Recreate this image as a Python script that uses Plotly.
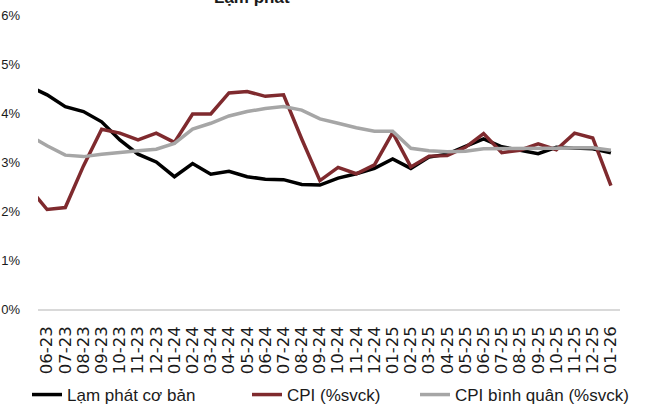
import plotly.graph_objects as go

months = ["05-23", "06-23", "07-23", "08-23", "09-23", "10-23", "11-23", "12-23",
          "01-24", "02-24", "03-24", "04-24", "05-24", "06-24", "07-24", "08-24",
          "09-24", "10-24", "11-24", "12-24", "01-25", "02-25", "03-25", "04-25",
          "05-25", "06-25", "07-25", "08-25", "09-25", "10-25", "11-25", "12-25",
          "01-26"]

core_inflation = [4.55, 4.37, 4.13, 4.03, 3.82, 3.45, 3.16, 3.00,
                  2.70, 2.97, 2.75, 2.81, 2.70, 2.65, 2.64, 2.54,
                  2.53, 2.67, 2.76, 2.87, 3.06, 2.87, 3.10, 3.16,
                  3.32, 3.47, 3.31, 3.24, 3.17, 3.30, 3.29, 3.27,
                  3.19]

cpi_yoy = [2.48, 2.03, 2.07, 2.92, 3.67, 3.59, 3.45, 3.59,
           3.40, 3.98, 3.98, 4.41, 4.44, 4.34, 4.37, 3.47,
           2.62, 2.89, 2.76, 2.94, 3.60, 2.90, 3.12, 3.13,
           3.30, 3.58, 3.19, 3.24, 3.37, 3.25, 3.59, 3.49,
           2.52]

cpi_avg = [3.55, 3.33, 3.14, 3.11, 3.16, 3.20, 3.23, 3.26,
           3.38, 3.67, 3.79, 3.94, 4.03, 4.09, 4.13, 4.06,
           3.88, 3.79, 3.70, 3.63, 3.63, 3.28, 3.23, 3.21,
           3.22, 3.27, 3.27, 3.27, 3.28, 3.28, 3.29, 3.29,
           3.24]

series_names = ["Lạm phát cơ bản", "CPI (%svck)", "CPI bình quân (%svck)"]
colors = ["#000000", "#7F2A2E", "#A6A6A6"]
legend_ids = ["legend", "legend2", "legend3"]

FONT = "Liberation Sans"
TEXT = "#1a1a1a"
W, H = 648, 409

fig = go.Figure()
for name, vals, col, lg in zip(series_names, [core_inflation, cpi_yoy, cpi_avg], colors, legend_ids):
    fig.add_trace(go.Scatter(x=months, y=vals, mode="lines", name=name,
                             line=dict(color=col, width=3.5), legend=lg))

def legend_at(px):
    return dict(orientation="h", xref="container", yref="container",
                x=px / W, xanchor="left", y=1 - 395 / H, yanchor="middle",
                font=dict(size=17, family=FONT, color=TEXT),
                bgcolor="rgba(0,0,0,0)", borderwidth=0)

fig.update_layout(
    width=W, height=H,
    margin=dict(l=38, r=28, t=15, b=100, autoexpand=False),
    paper_bgcolor="white", plot_bgcolor="white",
    font=dict(family=FONT, color=TEXT, size=15),
    showlegend=True,
    legend=legend_at(27), legend2=legend_at(247), legend3=legend_at(415),
    annotations=[dict(text="<b>Lạm phát</b>", xref="paper", yref="paper",
                      x=0.368, y=1.0, xanchor="center", yanchor="bottom",
                      yshift=6, showarrow=False,
                      font=dict(size=17, family=FONT, color=TEXT))],
)

fig.update_xaxes(type="category", categoryorder="array", categoryarray=months,
                 range=[0.5, len(months) - 0.5], tickangle=-90, dtick=1, tick0=0,
                 showgrid=False, showline=True, linecolor="#D9D9D9", linewidth=1.5,
                 ticks="", tickfont=dict(size=16.5, family="DejaVu Sans", color=TEXT),
                 ticklabelstandoff=9, zeroline=False, automargin=False)
fig.update_yaxes(range=[0, 6], dtick=1, ticksuffix="%", showgrid=False,
                 showline=False, zeroline=False, ticks="",
                 tickfont=dict(size=13, family=FONT, color=TEXT),
                 ticklabelstandoff=17, automargin=False)

fig.write_html("out.html",
               config={"displayModeBar": False},
               post_script="document.body.style.margin='0';document.body.style.overflow='hidden';")
